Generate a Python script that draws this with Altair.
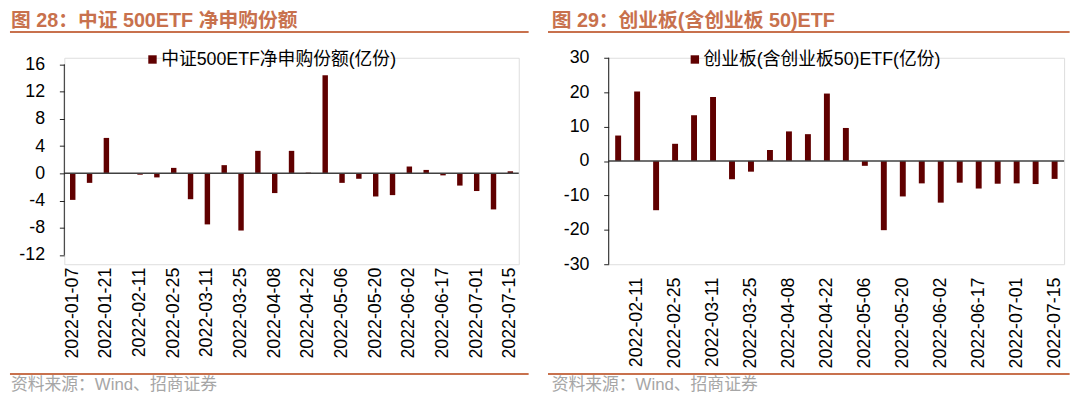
import altair as alt
import pandas as pd

# ---------------- data ----------------
left_dates = ["2022-01-07", "2022-01-14", "2022-01-21", "2022-01-28", "2022-02-11",
              "2022-02-18", "2022-02-25", "2022-03-04", "2022-03-11", "2022-03-18",
              "2022-03-25", "2022-04-01", "2022-04-08", "2022-04-15", "2022-04-22",
              "2022-04-29", "2022-05-06", "2022-05-13", "2022-05-20", "2022-05-27",
              "2022-06-02", "2022-06-10", "2022-06-17", "2022-06-24", "2022-07-01",
              "2022-07-08", "2022-07-15"]
left_values = [-3.9, -1.4, 5.2, -0.1, -0.2, -0.6, 0.8, -3.8, -7.5, 1.2,
               -8.4, 3.3, -2.9, 3.3, 0.1, 14.4, -1.4, -0.8, -3.4, -3.2,
               1.0, 0.5, -0.3, -1.8, -2.6, -5.3, 0.3]
left_tick_labels = left_dates[0::2]
left_y_ticks = [-12, -8, -4, 0, 4, 8, 12, 16]

right_dates = left_dates[3:]
right_values = [7.4, 20.2, -14.3, 5.0, 13.3, 18.6, -5.3, -3.1, 3.2, 8.6,
                7.8, 19.6, 9.6, -1.4, -20.1, -10.3, -6.5, -12.1, -6.3, -8.0,
                -6.6, -6.5, -6.7, -5.2]
right_tick_labels = right_dates[1::2]
right_y_ticks = [-30, -20, -10, 0, 10, 20, 30]

left_title = "图 28：中证 500ETF 净申购份额"
left_legend = "中证500ETF净申购份额(亿份)"
right_title = "图 29：创业板(含创业板 50)ETF"
right_legend = "创业板(含创业板50)ETF(亿份)"
source_text = "资料来源：Wind、招商证券"

FONT = "Liberation Sans, Arial, Noto Sans CJK SC"
BAR = "#600000"
ACCENT = "#C8714D"
AXIS = "#222222"


def panel(dates, values, labels, ydom, yticks, title, legend, w, h, bar_size, g):
    df = pd.DataFrame({"date": dates, "value": values})
    one = pd.DataFrame({"k": [0]})
    yaxis = alt.Axis(values=yticks, title=None, grid=False, tickSize=5,
                     labelPadding=15, labelFontSize=18, labelColor="black",
                     labelFont=FONT, domain=False, tickColor=AXIS,
                     labelOverlap=False, labelFlush=False,
                     labelExpr="'' + datum.value")
    yscale = alt.Scale(domain=ydom, nice=False, zero=False)
    bars = alt.Chart(df).mark_bar(color=BAR, size=bar_size).encode(
        x=alt.X("date:N", sort=dates,
                scale=alt.Scale(paddingInner=0, paddingOuter=0),
                axis=alt.Axis(values=labels, labelAngle=-90, domain=False, ticks=False,
                              labelPadding=g["xpad"], title=None, labelFontSize=18,
                              labelColor="black", labelFont=FONT)),
        y=alt.Y("value:Q", scale=yscale, axis=yaxis, title=None),
    )
    yline = alt.Chart(one).mark_rule(color=AXIS, strokeWidth=1).encode(
        x=alt.value(0), y=alt.YDatum(yticks[0], axis=yaxis, scale=yscale, title=None),
        y2=alt.datum(yticks[-1]))
    zero = alt.Chart(one).mark_rule(color="#404040", strokeWidth=1.5).encode(
        y=alt.YDatum(0, axis=yaxis, scale=yscale, title=None))
    t = alt.Chart(one).mark_text(text=title, align="left", baseline="top", font=FONT,
                                 fontSize=20, fontWeight="bold", color=ACCENT).encode(
        x=alt.value(g["tx"]), y=alt.value(g["ty"]))
    line1 = alt.Chart(one).mark_rule(color=ACCENT, strokeWidth=2).encode(
        x=alt.value(g["lx1"]), x2=alt.value(g["lx2"]), y=alt.value(g["ly1"]))
    line2 = alt.Chart(one).mark_rule(color=ACCENT, strokeWidth=2).encode(
        x=alt.value(g["lx1"]), x2=alt.value(g["lx2"]), y=alt.value(g["ly2"]))
    src = alt.Chart(one).mark_text(text=source_text, align="left", baseline="middle",
                                   font=FONT, fontSize=17, color="#A6A6A6").encode(
        x=alt.value(g["tx"]), y=alt.value(g["sy"]))
    sq = alt.Chart(one).mark_rect(color=BAR).encode(
        x=alt.value(g["qx"]), x2=alt.value(g["qx"] + 8.5),
        y=alt.value(g["qy"] - 4.5), y2=alt.value(g["qy"] + 4))
    lg = alt.Chart(one).mark_text(text=legend, align="left", baseline="middle", font=FONT,
                                  fontSize=18, color="black").encode(
        x=alt.value(g["qx"] + 13), y=alt.value(g["qy"]))
    return alt.layer(bars, zero, yline, t, line1, line2, src, sq, lg).properties(
        width=w, height=h)


left = panel(left_dates, left_values, left_tick_labels, [-13.35, 16.97], left_y_ticks,
             left_title, left_legend, 460, 209,
             5.5, dict(tx=-54, ty=-47, lx1=-55, lx2=470, ly1=-26, ly2=320,
                       sy=331, qx=85, qy=2, xpad=3))
right = panel(right_dates, right_values, right_tick_labels, [-30, 30], right_y_ticks,
              right_title, right_legend, 461, 209,
              6, dict(tx=-57.7, ty=-47, lx1=-61.4, lx2=466.6, ly1=-26, ly2=320,
                      sy=331, qx=83, qy=2, xpad=13))

chart = alt.hconcat(left, right, spacing=16).properties(padding=0).configure_view(
    stroke=None).configure(font=FONT).configure_axis(labelOverlap=False)

chart.save("out.html", embed_options={"renderer": "svg", "actions": False})
